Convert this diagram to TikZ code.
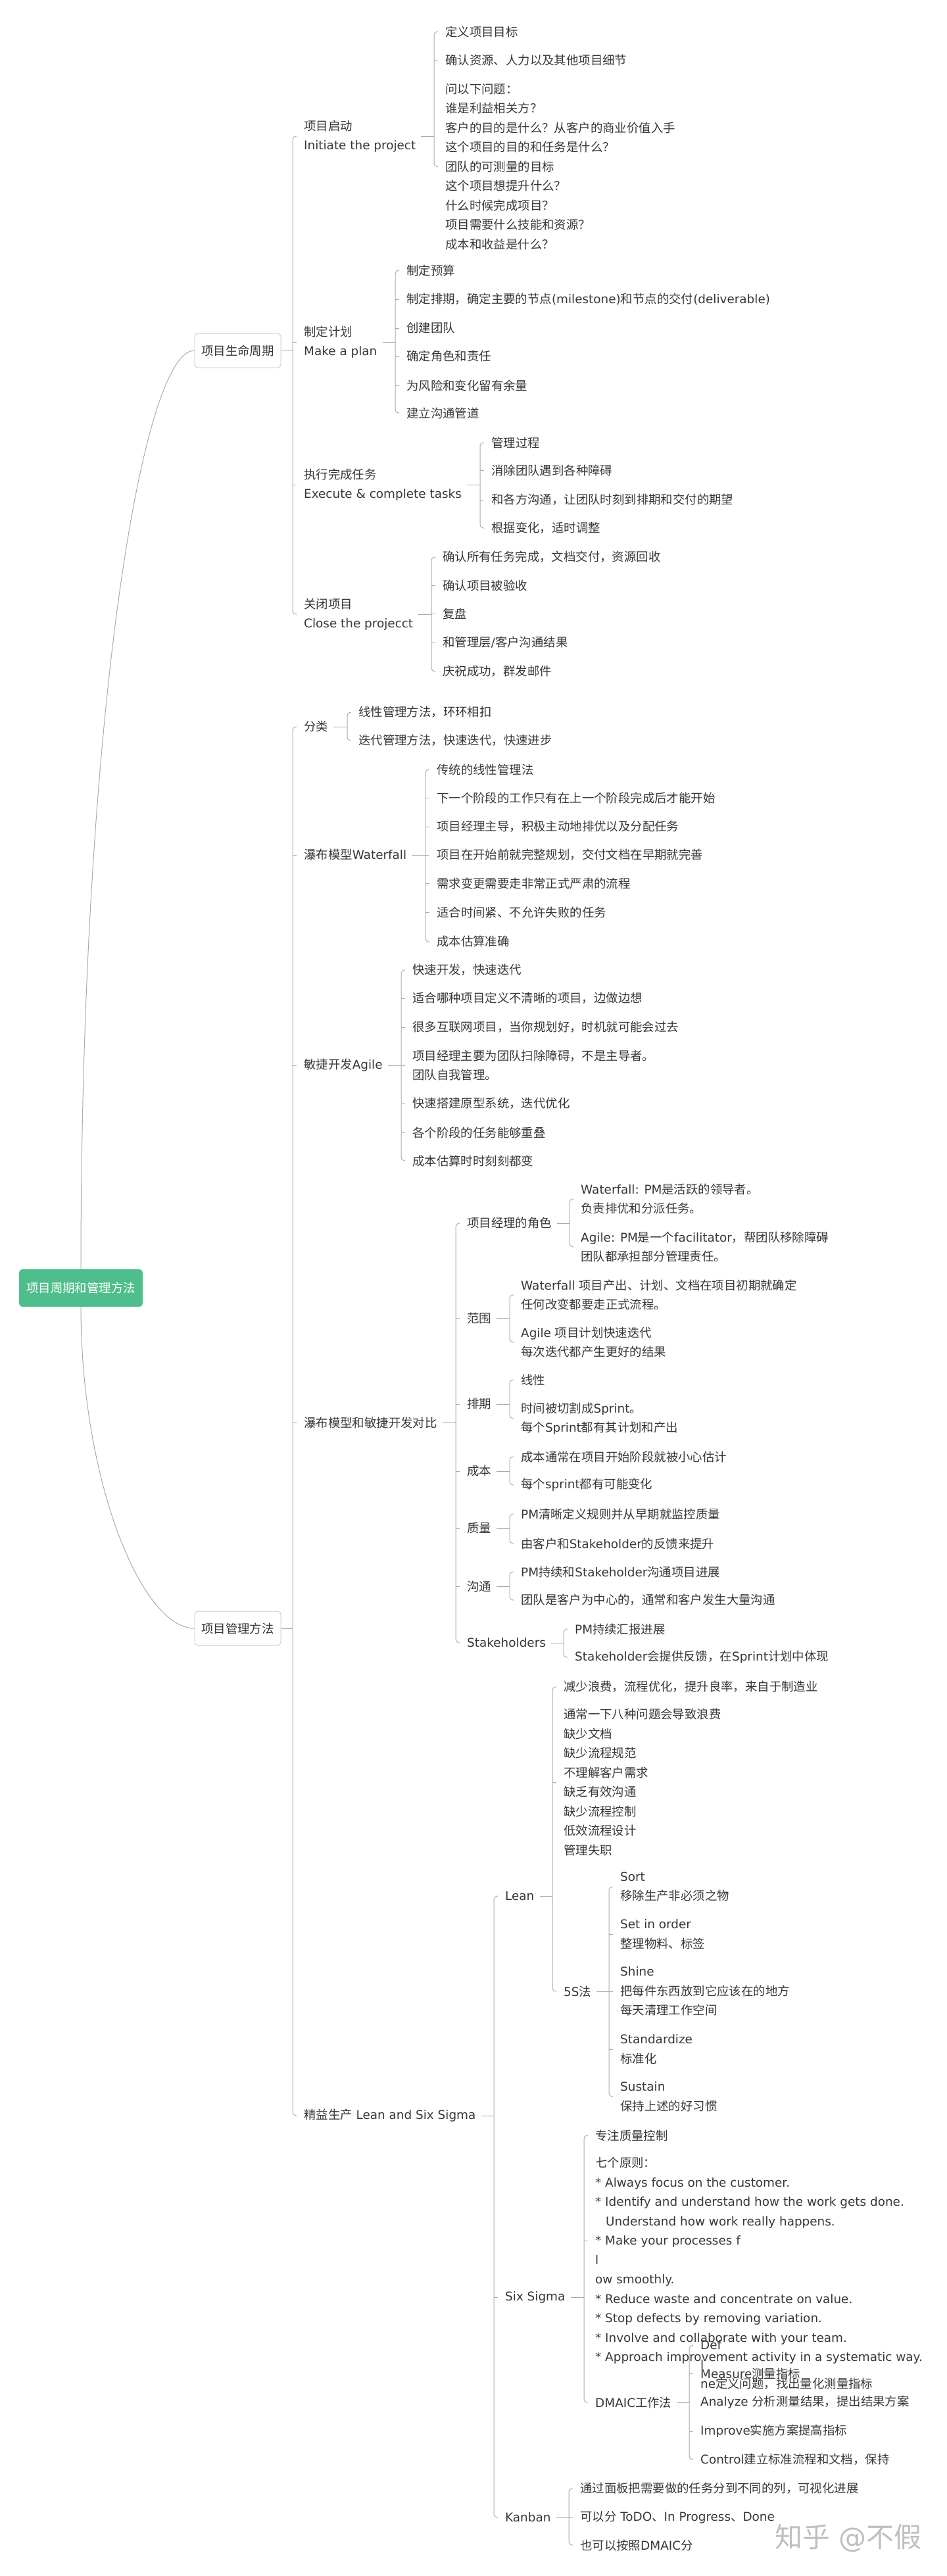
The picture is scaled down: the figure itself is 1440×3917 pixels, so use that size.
\documentclass[tikz,border=0pt]{standalone}
\usepackage{fontspec}
\setmainfont{DejaVu Sans}
\newfontfamily\cjkfont{Noto Sans CJK SC}
\usetikzlibrary{calc}

% CJK characters switch to the CJK family, everything else stays in DejaVu Sans
\XeTeXinterchartokenstate=1
\newXeTeXintercharclass\cjkclass
\newcount\cjkidx
\def\setclassrange#1#2#3{\cjkidx=#1\relax
  \loop\ifnum\cjkidx<#2\relax\XeTeXcharclass\cjkidx=#3\relax\advance\cjkidx by 1\relax\repeat}
\setclassrange{"21}{"7F}{0}
\setclassrange{"3000}{"3040}{\cjkclass}
\setclassrange{"4E00}{"A000}{\cjkclass}
\setclassrange{"FF00}{"FFF0}{\cjkclass}
\XeTeXinterchartoks 0 \cjkclass = {\cjkfont}
\XeTeXinterchartoks 4095 \cjkclass = {\cjkfont}
\XeTeXinterchartoks \cjkclass 0 = {\rmfamily}
\XeTeXinterchartoks \cjkclass 4095 = {\rmfamily}

\definecolor{ink}{RGB}{55,55,55}
\definecolor{wire}{RGB}{170,170,170}
\definecolor{boxline}{RGB}{205,205,205}
\definecolor{rootgreen}{RGB}{80,190,140}
\newcommand{\mapfont}{\fontsize{18.4}{29.5}\selectfont}

\begin{document}
\begin{tikzpicture}[x=1pt, y=-1pt,
    hub/.style={fill=rootgreen, text=white, rounded corners=5pt, minimum width=188pt, minimum height=57pt, font=\mapfont},
    topic/.style={draw=boxline, fill=white, line width=1pt, rounded corners=5pt, minimum width=131pt, minimum height=52pt, text=ink, font=\mapfont},
    leaf/.style={anchor=west, inner sep=0pt, align=left, text=ink, font=\mapfont},
    link/.style={draw=wire, line width=1pt},
    fork/.style={link, rounded corners=5pt},
    watermark/.style={inner sep=0pt, text=black!25, font=\fontsize{42}{42}\selectfont}
]
\useasboundingbox (0,0) rectangle (1440,3917);

\node[hub] (root) at (123,1958.5) {项目周期和管理方法};
\node[topic] (lc) at (361.5,533) {项目生命周期};
\node[topic] (pm) at (361.5,2476) {项目管理方法};

% 项目生命周期
\node[leaf] (init) at (462,207) {项目启动\\Initiate the project};
\node[leaf] (plan) at (462,520) {制定计划\\Make a plan};
\node[leaf] (exec) at (462,737) {执行完成任务\\Execute \& complete tasks};
\node[leaf] (close) at (462,934) {关闭项目\\Close the projecct};

\node[leaf] (i1) at (677,48) {定义项目目标};
\node[leaf] (i2) at (677,92) {确认资源、人力以及其他项目细节};
\node[leaf] (i3) at (677,253.5) {问以下问题：\\谁是利益相关方？\\客户的目的是什么？从客户的商业价值入手\\这个项目的目的和任务是什么？\\团队的可测量的目标\\这个项目想提升什么？\\什么时候完成项目？\\项目需要什么技能和资源？\\成本和收益是什么？};

\node[leaf] (p1) at (618,411) {制定预算};
\node[leaf] (p2) at (618,455) {制定排期，确定主要的节点(milestone)和节点的交付(deliverable)};
\node[leaf] (p3) at (618,499) {创建团队};
\node[leaf] (p4) at (618,542) {确定角色和责任};
\node[leaf] (p5) at (618,586) {为风险和变化留有余量};
\node[leaf] (p6) at (618,628) {建立沟通管道};

\node[leaf] (e1) at (747,673) {管理过程};
\node[leaf] (e2) at (747,715) {消除团队遇到各种障碍};
\node[leaf] (e3) at (747,760) {和各方沟通，让团队时刻到排期和交付的期望};
\node[leaf] (e4) at (747,803) {根据变化，适时调整};

\node[leaf] (c1) at (673,847) {确认所有任务完成，文档交付，资源回收};
\node[leaf] (c2) at (673,890) {确认项目被验收};
\node[leaf] (c3) at (673,933) {复盘};
\node[leaf] (c4) at (673,977) {和管理层/客户沟通结果};
\node[leaf] (c5) at (673,1021) {庆祝成功，群发邮件};

% 项目管理方法
\node[leaf] (cls) at (462,1105) {分类};
\node[leaf] (wf) at (462,1300) {瀑布模型Waterfall};
\node[leaf] (ag) at (462,1620) {敏捷开发Agile};
\node[leaf] (cmp) at (462,2163) {瀑布模型和敏捷开发对比};
\node[leaf] (lss) at (462,3217) {精益生产 Lean and Six Sigma};

\node[leaf] (k1) at (545,1083) {线性管理方法，环环相扣};
\node[leaf] (k2) at (545,1126) {迭代管理方法，快速迭代，快速进步};

\node[leaf] (w1) at (664,1170) {传统的线性管理法};
\node[leaf] (w2) at (664,1213) {下一个阶段的工作只有在上一个阶段完成后才能开始};
\node[leaf] (w3) at (664,1257) {项目经理主导，积极主动地排优以及分配任务};
\node[leaf] (w4) at (664,1300) {项目在开始前就完整规划，交付文档在早期就完善};
\node[leaf] (w5) at (664,1343) {需求变更需要走非常正式严肃的流程};
\node[leaf] (w6) at (664,1387) {适合时间紧、不允许失败的任务};
\node[leaf] (w7) at (664,1432) {成本估算准确};

\node[leaf] (a1) at (627,1475) {快速开发，快速迭代};
\node[leaf] (a2) at (627,1518) {适合哪种项目定义不清晰的项目，边做边想};
\node[leaf] (a3) at (627,1562) {很多互联网项目，当你规划好，时机就可能会过去};
\node[leaf] (a4) at (627,1620) {项目经理主要为团队扫除障碍，不是主导者。\\团队自我管理。};
\node[leaf] (a5) at (627,1678) {快速搭建原型系统，迭代优化};
\node[leaf] (a6) at (627,1722) {各个阶段的任务能够重叠};
\node[leaf] (a7) at (627,1765) {成本估算时时刻刻都变};

\node[leaf] (role) at (710,1860) {项目经理的角色};
\node[leaf] (scope) at (710,2004) {范围};
\node[leaf] (sched) at (710,2135) {排期};
\node[leaf] (cost) at (710,2237) {成本};
\node[leaf] (qual) at (710,2324) {质量};
\node[leaf] (comm) at (710,2412) {沟通};
\node[leaf] (stake) at (710,2498) {Stakeholders};

\node[leaf] (r1) at (883,1823) {Waterfall: PM是活跃的领导者。\\负责排优和分派任务。};
\node[leaf] (r2) at (883,1896) {Agile: PM是一个facilitator，帮团队移除障碍\\团队都承担部分管理责任。};
\node[leaf] (s1) at (792,1969) {Waterfall 项目产出、计划、文档在项目初期就确定\\任何改变都要走正式流程。};
\node[leaf] (s2) at (792,2041) {Agile 项目计划快速迭代\\每次迭代都产生更好的结果};
\node[leaf] (d1) at (792,2098) {线性};
\node[leaf] (d2) at (792,2157) {时间被切割成Sprint。\\每个Sprint都有其计划和产出};
\node[leaf] (o1) at (792,2215) {成本通常在项目开始阶段就被小心估计};
\node[leaf] (o2) at (792,2258) {每个sprint都有可能变化};
\node[leaf] (q1) at (792,2302) {PM清晰定义规则并从早期就监控质量};
\node[leaf] (q2) at (792,2347) {由客户和Stakeholder的反馈来提升};
\node[leaf] (m1) at (792,2390) {PM持续和Stakeholder沟通项目进展};
\node[leaf] (m2) at (792,2433) {团队是客户为中心的，通常和客户发生大量沟通};
\node[leaf] (t1) at (874,2477) {PM持续汇报进展};
\node[leaf] (t2) at (874,2520) {Stakeholder会提供反馈，在Sprint计划中体现};

\node[leaf] (lean) at (768,2883) {Lean};
\node[leaf] (six) at (768,3493) {Six Sigma};
\node[leaf] (kan) at (768,3828) {Kanban};

\node[leaf] (l1) at (857,2565) {减少浪费，流程优化，提升良率，来自于制造业};
\node[leaf] (l2) at (857,2710) {通常一下八种问题会导致浪费\\缺少文档\\缺少流程规范\\不理解客户需求\\缺乏有效沟通\\缺少流程控制\\低效流程设计\\管理失职};
\node[leaf] (fives) at (857,3028) {5S法};

\node[leaf] (f1) at (943,2869) {Sort\\移除生产非必须之物};
\node[leaf] (f2) at (943,2941) {Set in order\\整理物料、标签};
\node[leaf] (f3) at (943,3028) {Shine\\把每件东西放到它应该在的地方\\每天清理工作空间};
\node[leaf] (f4) at (943,3116) {Standardize\\标准化};
\node[leaf] (f5) at (943,3188) {Sustain\\保持上述的好习惯};

\node[leaf] (x1) at (905,3247) {专注质量控制};
\node[leaf] (x2) at (905,3437.5) {七个原则：\\* Always focus on the customer.\\* Identify and understand how the work gets done.\\\hspace*{16pt}Understand how work really happens.\\* Make your processes f\\l\\ow smoothly.\\* Reduce waste and concentrate on value.\\* Stop defects by removing variation.\\* Involve and collaborate with your team.\\* Approach improvement activity in a systematic way.};
\node[leaf] (dmaic) at (905,3653) {DMAIC工作法};

\node[leaf] (dd) at (1065,3596) {Def\\l\\ne定义问题，找出量化测量指标};
\node[leaf] (dm) at (1065,3609) {Measure测量指标};
\node[leaf] (da) at (1065,3653) {Analyze 分析测量结果，提出结果方案};
\node[leaf] (di) at (1065,3697) {Improve实施方案提高指标};
\node[leaf] (dc) at (1065,3740) {Control建立标准流程和文档，保持};

\node[leaf] (n1) at (882,3784) {通过面板把需要做的任务分到不同的列，可视化进展};
\node[leaf] (n2) at (882,3828) {可以分 ToDO、In Progress、Done};
\node[leaf] (n3) at (882,3870) {也可以按照DMAIC分};

\node[watermark] (wm) at (1290,3859) {知乎 @不假};

% root to the two topics
\draw[link] (root.north) .. controls (123,1100) and (215,533) .. (lc.west);
\draw[link] (root.south) .. controls (123,2250) and (215,2476) .. (pm.west);

% 项目生命周期 branches
\draw[link] (lc.east) -- ($(lc.east -| init.west)+(-17,0)$);
\draw[fork] ([xshift=-11pt]init.west) -- ++(-6,0) |- ([xshift=-11pt]close.west);
\foreach \n in {plan,exec} \draw[link] ([xshift=-17pt]\n.west) -- ++(6,0);

\draw[link] ([xshift=8pt]init.east) -- ($(init.east -| i1.west)+(-17,0)$);
\draw[fork] ([xshift=-11pt]i1.west) -- ++(-6,0) |- ([xshift=-11pt]i3.west);
\draw[link] ([xshift=-17pt]i2.west) -- ++(6,0);

\draw[link] ([xshift=8pt]plan.east) -- ($(plan.east -| p1.west)+(-17,0)$);
\draw[fork] ([xshift=-11pt]p1.west) -- ++(-6,0) |- ([xshift=-11pt]p6.west);
\foreach \n in {p2,p3,p4,p5} \draw[link] ([xshift=-17pt]\n.west) -- ++(6,0);

\draw[link] ([xshift=8pt]exec.east) -- ($(exec.east -| e1.west)+(-17,0)$);
\draw[fork] ([xshift=-11pt]e1.west) -- ++(-6,0) |- ([xshift=-11pt]e4.west);
\foreach \n in {e2,e3} \draw[link] ([xshift=-17pt]\n.west) -- ++(6,0);

\draw[link] ([xshift=8pt]close.east) -- ($(close.east -| c1.west)+(-17,0)$);
\draw[fork] ([xshift=-11pt]c1.west) -- ++(-6,0) |- ([xshift=-11pt]c5.west);
\foreach \n in {c2,c3,c4} \draw[link] ([xshift=-17pt]\n.west) -- ++(6,0);

% 项目管理方法 branches
\draw[link] (pm.east) -- ($(pm.east -| cls.west)+(-17,0)$);
\draw[fork] ([xshift=-11pt]cls.west) -- ++(-6,0) |- ([xshift=-11pt]lss.west);
\foreach \n in {wf,ag,cmp} \draw[link] ([xshift=-17pt]\n.west) -- ++(6,0);

\draw[link] ([xshift=8pt]cls.east) -- ($(cls.east -| k1.west)+(-17,0)$);
\draw[fork] ([xshift=-11pt]k1.west) -- ++(-6,0) |- ([xshift=-11pt]k2.west);

\draw[link] ([xshift=8pt]wf.east) -- ($(wf.east -| w1.west)+(-17,0)$);
\draw[fork] ([xshift=-11pt]w1.west) -- ++(-6,0) |- ([xshift=-11pt]w7.west);
\foreach \n in {w2,w3,w4,w5,w6} \draw[link] ([xshift=-17pt]\n.west) -- ++(6,0);

\draw[link] ([xshift=8pt]ag.east) -- ($(ag.east -| a1.west)+(-17,0)$);
\draw[fork] ([xshift=-11pt]a1.west) -- ++(-6,0) |- ([xshift=-11pt]a7.west);
\foreach \n in {a2,a3,a4,a5,a6} \draw[link] ([xshift=-17pt]\n.west) -- ++(6,0);

\draw[link] ([xshift=8pt]cmp.east) -- ($(cmp.east -| role.west)+(-17,0)$);
\draw[fork] ([xshift=-11pt]role.west) -- ++(-6,0) |- ([xshift=-11pt]stake.west);
\foreach \n in {scope,sched,cost,qual,comm} \draw[link] ([xshift=-17pt]\n.west) -- ++(6,0);

\draw[link] ([xshift=8pt]role.east) -- ($(role.east -| r1.west)+(-17,0)$);
\draw[fork] ([xshift=-11pt]r1.west) -- ++(-6,0) |- ([xshift=-11pt]r2.west);
\draw[link] ([xshift=8pt]scope.east) -- ($(scope.east -| s1.west)+(-17,0)$);
\draw[fork] ([xshift=-11pt]s1.west) -- ++(-6,0) |- ([xshift=-11pt]s2.west);
\draw[link] ([xshift=8pt]sched.east) -- ($(sched.east -| d1.west)+(-17,0)$);
\draw[fork] ([xshift=-11pt]d1.west) -- ++(-6,0) |- ([xshift=-11pt]d2.west);
\draw[link] ([xshift=8pt]cost.east) -- ($(cost.east -| o1.west)+(-17,0)$);
\draw[fork] ([xshift=-11pt]o1.west) -- ++(-6,0) |- ([xshift=-11pt]o2.west);
\draw[link] ([xshift=8pt]qual.east) -- ($(qual.east -| q1.west)+(-17,0)$);
\draw[fork] ([xshift=-11pt]q1.west) -- ++(-6,0) |- ([xshift=-11pt]q2.west);
\draw[link] ([xshift=8pt]comm.east) -- ($(comm.east -| m1.west)+(-17,0)$);
\draw[fork] ([xshift=-11pt]m1.west) -- ++(-6,0) |- ([xshift=-11pt]m2.west);
\draw[link] ([xshift=8pt]stake.east) -- ($(stake.east -| t1.west)+(-17,0)$);
\draw[fork] ([xshift=-11pt]t1.west) -- ++(-6,0) |- ([xshift=-11pt]t2.west);

\draw[link] ([xshift=8pt]lss.east) -- ($(lss.east -| lean.west)+(-17,0)$);
\draw[fork] ([xshift=-11pt]lean.west) -- ++(-6,0) |- ([xshift=-11pt]kan.west);
\draw[link] ([xshift=-17pt]six.west) -- ++(6,0);

\draw[link] ([xshift=8pt]lean.east) -- ($(lean.east -| l1.west)+(-17,0)$);
\draw[fork] ([xshift=-11pt]l1.west) -- ++(-6,0) |- ([xshift=-11pt]fives.west);
\draw[link] ([xshift=-17pt]l2.west) -- ++(6,0);

\draw[link] ([xshift=8pt]fives.east) -- ($(fives.east -| f1.west)+(-17,0)$);
\draw[fork] ([xshift=-11pt]f1.west) -- ++(-6,0) |- ([xshift=-11pt]f5.west);
\foreach \n in {f2,f3,f4} \draw[link] ([xshift=-17pt]\n.west) -- ++(6,0);

\draw[link] ([xshift=8pt]six.east) -- ($(six.east -| x1.west)+(-17,0)$);
\draw[fork] ([xshift=-11pt]x1.west) -- ++(-6,0) |- ([xshift=-11pt]dmaic.west);
\draw[link] ([xshift=-17pt,yshift=30pt]x2.west) -- ++(6,0);

\draw[link] ([xshift=8pt]dmaic.east) -- ($(dmaic.east -| da.west)+(-17,0)$);
\draw[fork] ([xshift=-11pt,yshift=29.5pt]dd.west) -- ++(-6,0) |- ([xshift=-11pt]dc.west);
\foreach \n in {dm,di} \draw[link] ([xshift=-17pt]\n.west) -- ++(6,0);

\draw[link] ([xshift=8pt]kan.east) -- ($(kan.east -| n1.west)+(-17,0)$);
\draw[fork] ([xshift=-11pt]n1.west) -- ++(-6,0) |- ([xshift=-11pt]n3.west);
\draw[link] ([xshift=-17pt]n2.west) -- ++(6,0);
\end{tikzpicture}
\end{document}
